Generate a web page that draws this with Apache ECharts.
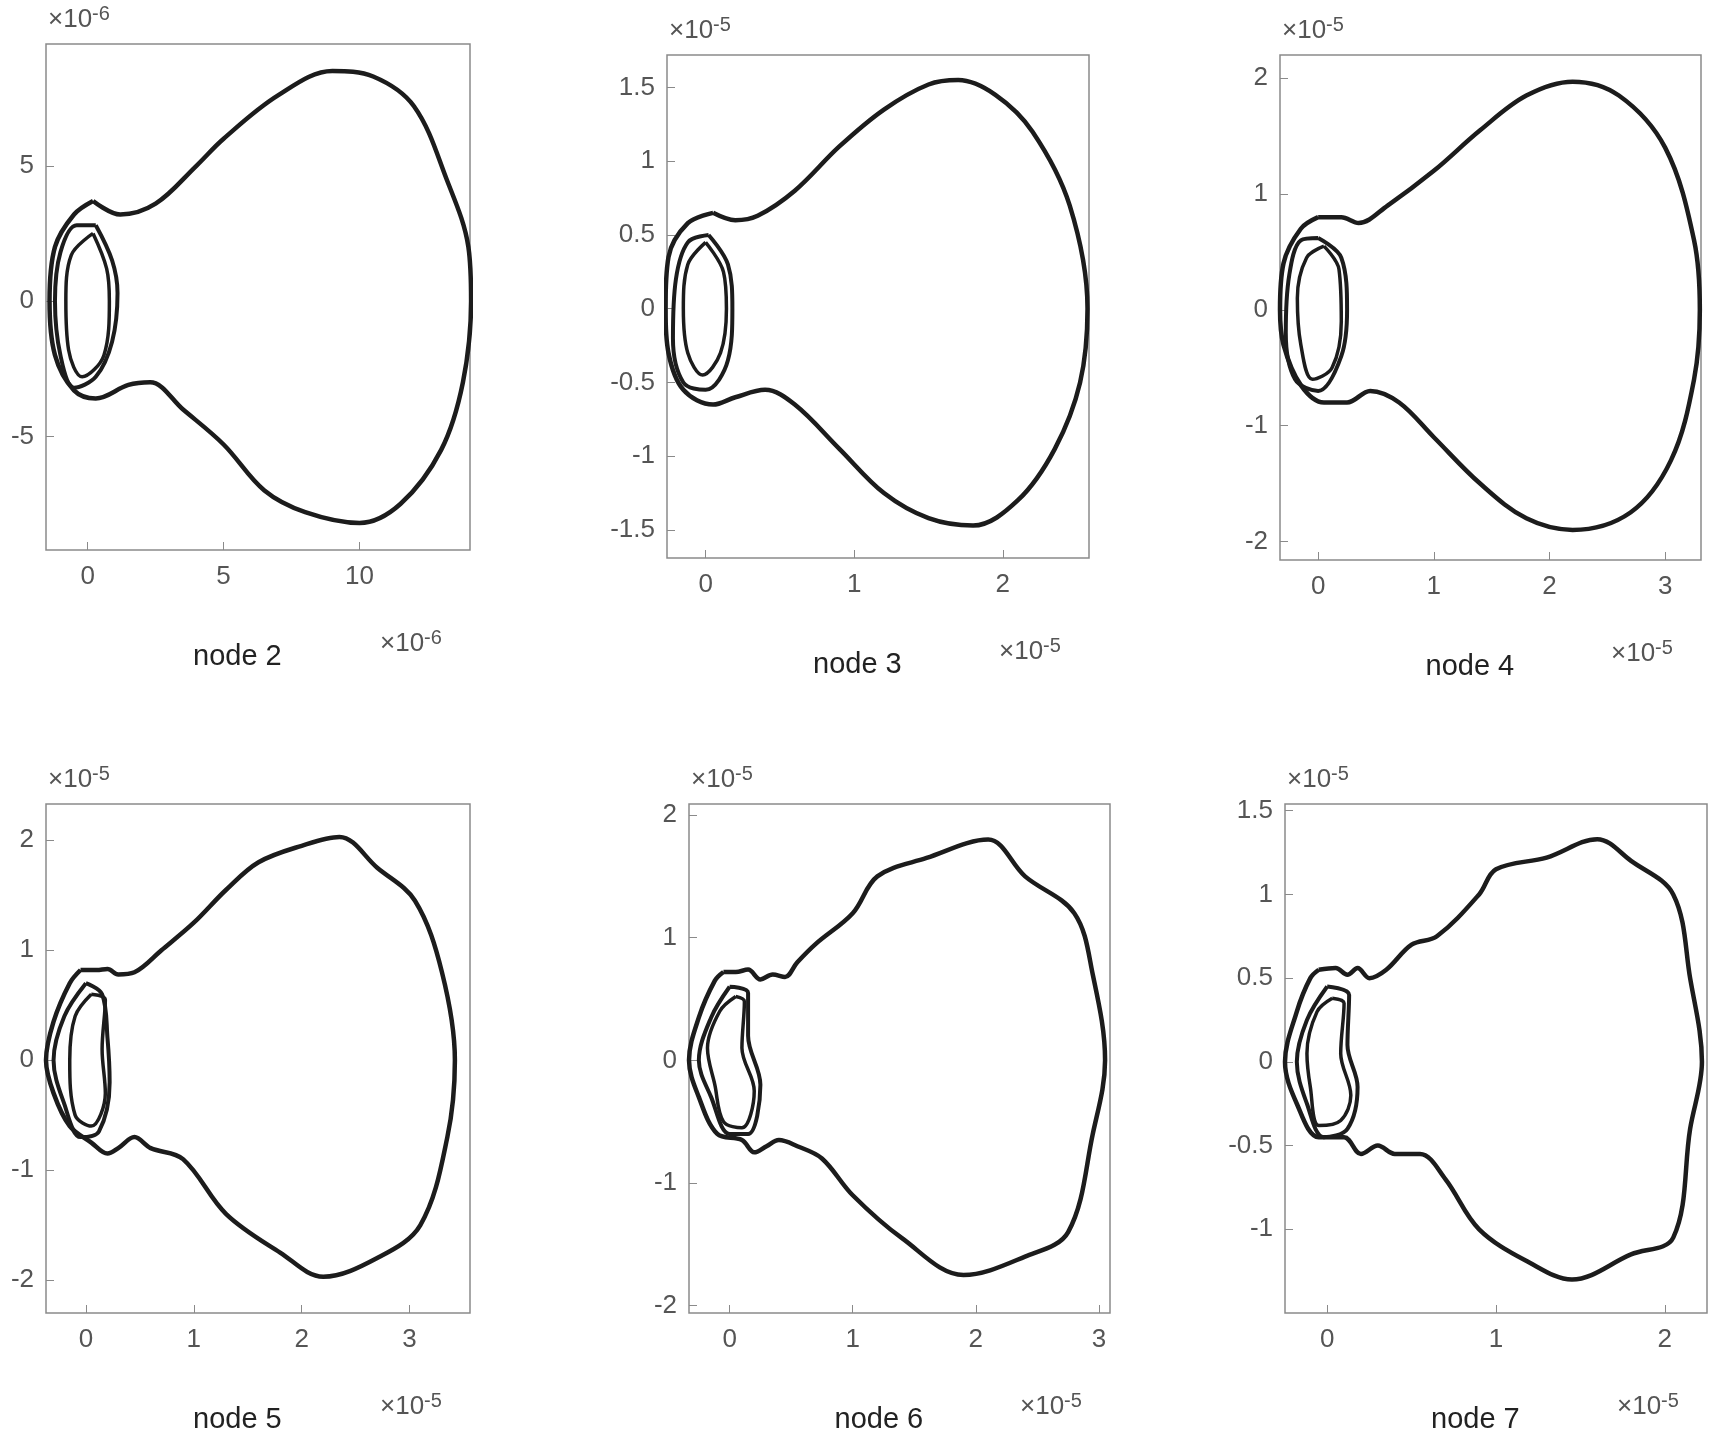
<!DOCTYPE html>
<html><head><meta charset="utf-8">
<script src="https://cdn.jsdelivr.net/npm/echarts@6/dist/echarts.min.js"></script>
<style>html,body{margin:0;background:#fff}#c{width:1716px;height:1440px}</style>
</head><body><div id="c"></div>
<script>
const titles=['node 2','node 3','node 4','node 5','node 6','node 7'];
const expo=['-6','-5','-5','-5','-5','-5'];
const xRanges=[[-1.53,14.06],[-0.26,2.58],[-0.33,3.31],[-0.37,3.56],[-0.33,3.09],[-0.25,2.25]];
const yRanges=[[-9.2,9.5],[-1.69,1.72],[-2.16,2.2],[-2.3,2.33],[-2.06,2.09],[-1.5,1.54]];
const xTicks=[[0,5,10],[0,1,2],[0,1,2,3],[0,1,2,3],[0,1,2,3],[0,1,2]];
const yTicks=[[-5,0,5],[-1.5,-1,-0.5,0,0.5,1,1.5],[-2,-1,0,1,2],[-2,-1,0,1,2],[-2,-1,0,1,2],[-1,-0.5,0,0.5,1,1.5]];
const outer=[
[[0.2,3.7],[1.2,3.2],[2.5,3.6],[4,5],[5,6],[7,7.6],[9,8.5],[10.5,8.3],[12,7.2],[13.2,4.5],[14,2],[14.1,0],[13.8,-3],[13,-5.5],[11.5,-7.5],[10,-8.2],[8,-7.8],[6.5,-7],[5,-5.3],[3.5,-4],[2.3,-3],[1.5,-3.1],[0.3,-3.6],[-0.5,-3.3],[-1.2,-2],[-1.4,0],[-1.2,2],[-0.5,3.2],[0.2,3.7]],
[[0.05,0.65],[0.2,0.6],[0.35,0.63],[0.6,0.8],[0.9,1.1],[1.2,1.35],[1.5,1.52],[1.7,1.55],[1.95,1.45],[2.2,1.2],[2.45,0.7],[2.57,0],[2.52,-0.5],[2.35,-0.95],[2.1,-1.3],[1.8,-1.47],[1.5,-1.42],[1.2,-1.25],[0.9,-0.95],[0.6,-0.65],[0.4,-0.55],[0.2,-0.6],[0.05,-0.65],[-0.15,-0.55],[-0.25,-0.3],[-0.27,0],[-0.25,0.35],[-0.12,0.58],[0.05,0.65]],
[[0.0,0.8],[0.2,0.8],[0.35,0.75],[0.6,0.9],[1.0,1.2],[1.4,1.55],[1.8,1.85],[2.2,1.97],[2.6,1.85],[3.0,1.4],[3.25,0.6],[3.3,0],[3.25,-0.6],[3.05,-1.3],[2.7,-1.75],[2.2,-1.9],[1.8,-1.8],[1.4,-1.5],[1.0,-1.1],[0.7,-0.8],[0.45,-0.7],[0.25,-0.8],[0.05,-0.8],[-0.15,-0.65],[-0.3,-0.3],[-0.33,0],[-0.3,0.4],[-0.15,0.7],[0.0,0.8]],
[[-0.05,0.82],[0.1,0.82],[0.2,0.83],[0.3,0.78],[0.45,0.8],[0.7,1.0],[1.0,1.25],[1.3,1.55],[1.6,1.8],[2.0,1.95],[2.35,2.03],[2.7,1.75],[3.05,1.45],[3.3,0.8],[3.42,0],[3.35,-0.7],[3.1,-1.5],[2.7,-1.8],[2.2,-1.97],[1.8,-1.75],[1.3,-1.4],[0.9,-0.9],[0.6,-0.8],[0.45,-0.7],[0.3,-0.8],[0.2,-0.85],[0.05,-0.75],[-0.15,-0.6],[-0.3,-0.3],[-0.37,0],[-0.3,0.35],[-0.15,0.7],[-0.05,0.82]],
[[-0.05,0.72],[0.05,0.72],[0.15,0.74],[0.25,0.66],[0.35,0.7],[0.45,0.68],[0.55,0.8],[0.7,0.95],[1.0,1.2],[1.2,1.5],[1.6,1.65],[2.1,1.8],[2.4,1.5],[2.8,1.2],[2.95,0.7],[3.05,0],[2.95,-0.6],[2.75,-1.4],[2.4,-1.6],[1.9,-1.75],[1.4,-1.45],[1.0,-1.1],[0.75,-0.8],[0.55,-0.7],[0.4,-0.65],[0.3,-0.7],[0.2,-0.75],[0.1,-0.65],[-0.1,-0.6],[-0.25,-0.3],[-0.33,0],[-0.25,0.35],[-0.12,0.65],[-0.05,0.72]],
[[-0.05,0.55],[0.05,0.56],[0.12,0.52],[0.18,0.56],[0.25,0.5],[0.35,0.55],[0.5,0.7],[0.65,0.75],[0.9,1.0],[1.0,1.15],[1.3,1.22],[1.6,1.33],[1.8,1.2],[2.05,1.0],[2.15,0.5],[2.22,0],[2.15,-0.4],[2.05,-1.05],[1.8,-1.15],[1.45,-1.3],[1.2,-1.2],[0.9,-1.0],[0.7,-0.7],[0.55,-0.55],[0.4,-0.55],[0.3,-0.5],[0.2,-0.55],[0.1,-0.45],[-0.05,-0.45],[-0.18,-0.25],[-0.25,0],[-0.18,0.3],[-0.1,0.5],[-0.05,0.55]]
];
const innerA=[
[[0.3,2.8],[0.9,1.5],[1.1,0.3],[0.9,-1.5],[0.3,-2.8],[-0.5,-3.2],[-1,-2],[-1.2,0],[-1,1.8],[-0.4,2.8],[0.3,2.8]],
[[0.02,0.5],[0.15,0.3],[0.18,0],[0.15,-0.35],[0.0,-0.55],[-0.15,-0.5],[-0.22,-0.2],[-0.2,0.2],[-0.12,0.45],[0.02,0.5]],
[[0.0,0.62],[0.2,0.45],[0.25,0],[0.2,-0.4],[0.0,-0.7],[-0.2,-0.6],[-0.28,-0.2],[-0.25,0.3],[-0.15,0.6],[0.0,0.62]],
[[0.0,0.7],[0.15,0.6],[0.2,0.2],[0.22,-0.2],[0.12,-0.65],[-0.05,-0.7],[-0.2,-0.4],[-0.3,0],[-0.2,0.4],[0.0,0.7]],
[[0.0,0.6],[0.15,0.55],[0.15,0.2],[0.25,-0.2],[0.15,-0.6],[0.0,-0.6],[-0.15,-0.3],[-0.25,0],[-0.15,0.35],[0.0,0.6]],
[[0.0,0.45],[0.13,0.4],[0.12,0.1],[0.18,-0.15],[0.12,-0.4],[-0.02,-0.45],[-0.12,-0.25],[-0.18,0],[-0.12,0.25],[0.0,0.45]]
];
const innerB=[
[[0.2,2.5],[0.7,1.2],[0.8,0],[0.6,-2],[-0.2,-2.8],[-0.7,-1.8],[-0.8,0],[-0.6,1.7],[0.2,2.5]],
[[0.0,0.45],[0.12,0.25],[0.14,0],[0.1,-0.3],[-0.02,-0.45],[-0.12,-0.3],[-0.15,0],[-0.12,0.3],[0.0,0.45]],
[[0.05,0.55],[0.18,0.35],[0.2,-0.1],[0.12,-0.5],[-0.05,-0.6],[-0.15,-0.3],[-0.18,0.1],[-0.1,0.45],[0.05,0.55]],
[[0.05,0.6],[0.18,0.55],[0.15,0.1],[0.18,-0.3],[0.05,-0.6],[-0.1,-0.5],[-0.15,0],[-0.1,0.4],[0.05,0.6]],
[[0.05,0.52],[0.12,0.48],[0.1,0.1],[0.2,-0.25],[0.1,-0.55],[-0.05,-0.5],[-0.12,-0.2],[-0.18,0.1],[-0.08,0.4],[0.05,0.52]],
[[0.03,0.38],[0.1,0.35],[0.08,0.05],[0.14,-0.2],[0.08,-0.35],[-0.05,-0.38],[-0.1,-0.15],[-0.12,0.05],[-0.06,0.3],[0.03,0.38]]
];
const boxes=[[46,44,470,550],[667,55,1089,558],[1280,55,1701,560],[46,804,470,1313],[689,804,1110,1313],[1285,804,1707,1313]];
const grid=[],xAxis=[],yAxis=[],series=[],graphic=[];
const font='Liberation Sans, Arial, sans-serif';
const fmt=v=>String(v);
const rich={a:{fontSize:26,fontFamily:font,fill:'#555',color:'#555'},b:{fontSize:20,fontFamily:font,color:'#555',fill:'#555',verticalAlign:'top',padding:[0,0,12,0]}};
boxes.forEach((b,i)=>{
  grid.push({left:b[0],top:b[1],width:b[2]-b[0],height:b[3]-b[1],show:true,borderColor:'#8a8a8a',borderWidth:1.5});
  xAxis.push({gridIndex:i,min:xRanges[i][0],max:xRanges[i][1],type:'value',splitLine:{show:false},
    axisLine:{show:false,onZero:false},axisTick:{show:true,inside:true,length:8,lineStyle:{color:'#8a8a8a'},customValues:xTicks[i]},
    axisLabel:{customValues:xTicks[i],color:'#555',fontSize:26,fontFamily:font,margin:14,formatter:fmt}});
  yAxis.push({gridIndex:i,min:yRanges[i][0],max:yRanges[i][1],type:'value',splitLine:{show:false},
    axisLine:{show:false,onZero:false},axisTick:{show:true,inside:true,length:8,lineStyle:{color:'#8a8a8a'},customValues:yTicks[i]},
    axisLabel:{customValues:yTicks[i],color:'#555',fontSize:26,fontFamily:font,margin:12,formatter:fmt}});
  [[outer[i],4.5],[innerA[i],4],[innerB[i],3.5]].forEach(([d,w])=>{
    series.push({type:'line',xAxisIndex:i,yAxisIndex:i,data:d,smooth:0.35,showSymbol:false,silent:true,
      lineStyle:{color:'#1c1c1c',width:w}});
  });
  graphic.push({type:'text',left:b[0]+2,top:b[1]-40,style:{text:'{a|\u00d710}{b|'+expo[i]+'}',rich}});
  graphic.push({type:'text',left:b[2]-90,top:b[3]+78,style:{text:'{a|\u00d710}{b|'+expo[i]+'}',rich}});
  graphic.push({type:'text',left:(b[0]+b[2])/2-65,top:b[3]+92,style:{text:titles[i],fill:'#222',font:'29px '+font}});
});
const chart=echarts.init(document.getElementById('c'));
chart.setOption({animation:false,backgroundColor:'#fff',grid,xAxis,yAxis,series,graphic});
</script></body></html>
